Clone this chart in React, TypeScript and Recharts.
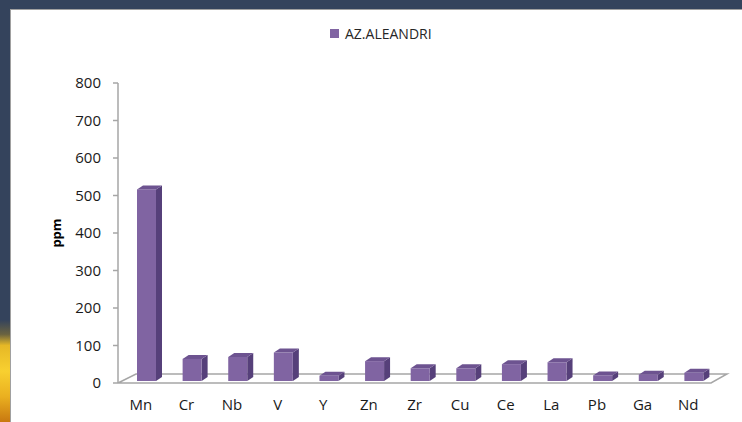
import React from "react";
import { BarChart, Bar, XAxis, YAxis, ReferenceLine } from "recharts";

const elements = ["Mn", "Cr", "Nb", "V", "Y", "Zn", "Zr", "Cu", "Ce", "La", "Pb", "Ga", "Nd"];
const ppm = [511, 59, 64, 76, 14, 53, 34, 34, 45, 50, 15, 17, 22];
const yTicks = [0, 100, 200, 300, 400, 500, 600, 700, 800];
const seriesName = "AZ.ALEANDRI";

const data = elements.map((el, i) => ({ el, ppm: ppm[i] }));

const FONT = "'Open Sans', 'Noto Sans', sans-serif";
const DX = 6;
const DY = 4;

function Bar3D(props: any) {
  const { x, y, width, height } = props;
  if (height == null || isNaN(height)) return null;
  const X = x + 6;
  const top = y - 2;
  const bottom = y + height - 2;
  const w = width;
  return (
    <g>
      <polygon
        points={`${X + w},${top} ${X + w + DX},${top - DY} ${X + w + DX},${bottom - DY} ${X + w},${bottom}`}
        fill="#56407A"
      />
      <polygon
        points={`${X},${top} ${X + DX},${top - DY} ${X + w + DX},${top - DY} ${X + w},${top}`}
        fill="#6D5390"
      />
      <rect x={X} y={top} width={w} height={bottom - top} fill="#8064A2" />
    </g>
  );
}

function Floor(props: any) {
  const { x1, x2, y1 } = props;
  if (x1 == null) return null;
  const pts = `${x1},${y1} ${x2},${y1} ${x2 + 16},${y1 - 9} ${x1 + 18},${y1 - 9}`;
  return <polygon points={pts} fill="none" stroke="#a6a6a6" strokeWidth={1.5} />;
}

export default function App() {
  return (
    <div style={{ position: "fixed", left: 0, top: 0, width: 742, height: 422, background: "#34435C", overflow: "hidden" }}>
      <div
        style={{
          position: "absolute",
          left: 0,
          top: 320,
          width: 10,
          height: 102,
          background: "linear-gradient(#34435C 0%, #6a6340 14%, #e6b826 25%, #f8d030 50%, #eab020 75%, #c87810 100%)",
        }}
      />
      <div
        style={{
          position: "absolute",
          left: 10,
          top: 9,
          width: 732,
          height: 413,
          background: "#ffffff",
          borderLeft: "1px solid #a0a0a0",
          borderTop: "1px solid #a0a0a0",
        }}
      />
      <div style={{ position: "absolute", left: 0, top: 0 }}>
        <BarChart
          width={742}
          height={422}
          data={data}
          margin={{ top: 83, right: 31, bottom: 9, left: 68 }}
          barSize={19}
        >
          <ReferenceLine y={0} shape={<Floor />} zIndex={-50} />
          <XAxis
            dataKey="el"
            axisLine={false}
            tickLine={false}
            tickSize={0}
            tickMargin={16}
            height={30}
            interval={0}
            tick={{ fill: "#1a1a1a", fontSize: 15, fontFamily: FONT }}
          />
          <YAxis
            domain={[0, 800]}
            ticks={yTicks}
            width={50}
            axisLine={{ stroke: "#a6a6a6", strokeWidth: 1.5 }}
            tickLine={{ stroke: "#a6a6a6", strokeWidth: 1.5 }}
            tickSize={5}
            tickMargin={12}
            tick={{ fill: "#1a1a1a", fontSize: 15, fontFamily: FONT }}
            label={{
              value: "ppm",
              angle: -90,
              position: "insideLeft",
              offset: -12,
              style: { fill: "#000", fontSize: 13, fontWeight: "bold", fontFamily: FONT, textAnchor: "middle" },
            }}
          />
          <Bar dataKey="ppm" name={seriesName} fill="#8064A2" shape={<Bar3D />} isAnimationActive={false} />
        </BarChart>
      </div>
      <div
        style={{
          position: "absolute",
          left: 330,
          top: 24,
          display: "flex",
          alignItems: "center",
          fontFamily: FONT,
          fontSize: 14,
          color: "#262626",
          whiteSpace: "nowrap",
        }}
      >
        <span style={{ display: "inline-block", width: 9, height: 9, background: "#8064A2", marginRight: 6 }} />
        {seriesName}
      </div>
    </div>
  );
}
